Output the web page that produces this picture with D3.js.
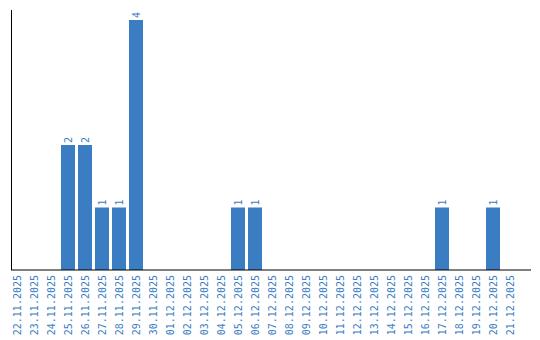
<!DOCTYPE html>
<html>
<head>
<meta charset="utf-8">
<script src="https://cdn.jsdelivr.net/npm/d3@7"></script>
<style>
  body { margin: 0; background: #fff; }
  svg { display: block; }
</style>
</head>
<body>
<div id="chart"></div>
<script>
// data
const dates = [
  `22.11.2025`, `23.11.2025`, `24.11.2025`, `25.11.2025`, `26.11.2025`, `27.11.2025`,
  `28.11.2025`, `29.11.2025`, `30.11.2025`, `01.12.2025`, `02.12.2025`, `03.12.2025`,
  `04.12.2025`, `05.12.2025`, `06.12.2025`, `07.12.2025`, `08.12.2025`, `09.12.2025`,
  `10.12.2025`, `11.12.2025`, `12.12.2025`, `13.12.2025`, `14.12.2025`, `15.12.2025`,
  `16.12.2025`, `17.12.2025`, `18.12.2025`, `19.12.2025`, `20.12.2025`, `21.12.2025`
]
const counts = [0, 0, 0, 2, 2, 1, 1, 4, 0, 0, 0, 0, 0, 1, 1, 0, 0, 0, 0, 0, 0, 0, 0, 0, 0, 1, 0, 0, 1, 0]

const width = 540, height = 340
const blue = `#3b7dc2`
const font = `"DejaVu Sans Mono", monospace`

const svg = d3.select(`#chart`).append(`svg`)
  .attr(`width`, width)
  .attr(`height`, height)

// scales
const x = d3.scaleBand()
  .domain(dates)
  .range([8.5, 518.5])
  .paddingInner(3 / 17)
  .paddingOuter(3 / 34)

const y = d3.scaleLinear()
  .domain([0, 4.16])
  .range([270, 10])

// bars
svg.append(`g`).selectAll(`rect`)
  .data(dates)
  .join(`rect`)
  .attr(`x`, d => x(d))
  .attr(`width`, x.bandwidth())
  .attr(`y`, (d, i) => y(counts[i]))
  .attr(`height`, (d, i) => y(0) - y(counts[i]))
  .attr(`fill`, blue)

// value labels above bars
svg.append(`g`).selectAll(`text`)
  .data(dates.filter((d, i) => counts[i] > 0))
  .join(`text`)
  .attr(`transform`, d => `translate(${x(d) + x.bandwidth() / 2 + 3.5},${y(counts[dates.indexOf(d)]) - 2}) rotate(-90)`)
  .attr(`font-family`, font)
  .attr(`font-size`, 10)
  .attr(`fill`, blue)
  .text(d => counts[dates.indexOf(d)])

// x axis
const xAxis = svg.append(`g`)
  .attr(`transform`, `translate(0,${y(0)})`)
  .call(d3.axisBottom(x).tickSize(0).tickPadding(0))
xAxis.select(`.domain`).remove()
xAxis.append(`line`)
  .attr(`x1`, 11).attr(`x2`, 531)
  .attr(`stroke`, `#000`)
xAxis.selectAll(`.tick text`)
  .attr(`transform`, `translate(3.5,5) rotate(-90)`)
  .attr(`text-anchor`, `end`)
  .attr(`dy`, 0)
  .attr(`y`, 0)
  .attr(`font-family`, font)
  .attr(`font-size`, 10)
  .attr(`fill`, blue)

// y axis line
svg.append(`line`)
  .attr(`x1`, 11.5).attr(`x2`, 11.5)
  .attr(`y1`, 10).attr(`y2`, y(0))
  .attr(`stroke`, `#000`)
</script>
</body>
</html>
